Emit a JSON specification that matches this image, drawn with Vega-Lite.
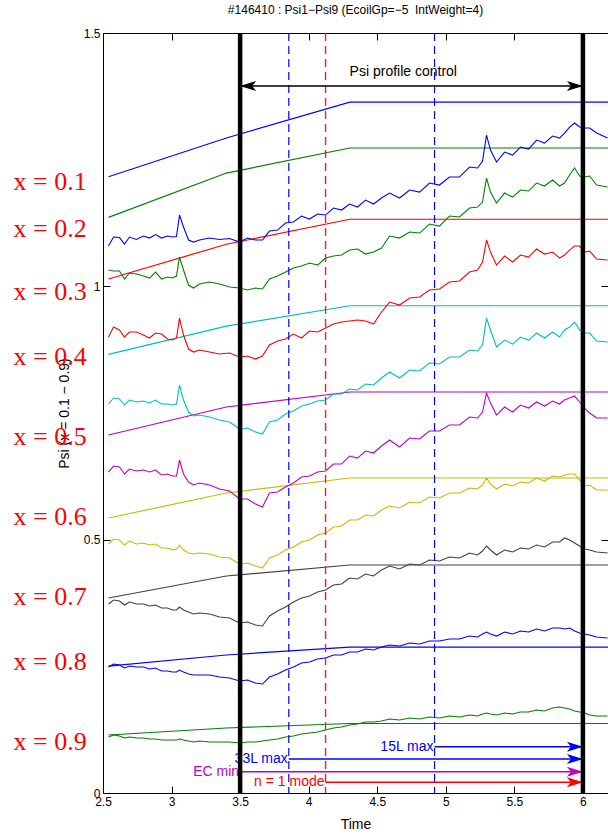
{
  "$schema": "https://vega.github.io/schema/vega-lite/v6.json",
  "width": 505,
  "height": 760,
  "autosize": {"type": "none"},
  "padding": {"left": 103, "top": 33, "right": 0, "bottom": 42},
  "background": "white",
  "title": {
    "text": "#146410 : Psi1−Psi9 (EcoilGp=−5\u00a0 IntWeight=4)",
    "font": "Liberation Sans",
    "fontSize": 12,
    "fontWeight": "normal",
    "color": "black",
    "offset": 10
  },
  "config": {
    "view": {"stroke": null},
    "axis": {
      "labelFont": "Liberation Sans",
      "titleFont": "Liberation Sans",
      "labelColor": "black",
      "titleColor": "black",
      "domainColor": "black",
      "tickColor": "black",
      "grid": false,
      "titleFontWeight": "normal",
      "labelFontSize": 12,
      "titleFontSize": 14,
      "domainWidth": 1,
      "tickWidth": 1,
      "zindex": 1
    }
  },
  "resolve": {"axis": {"x": "independent", "y": "independent"}},
  "datasets": {
    "targets": [
      {"t": 2.54, "p1": 1.2163, "p2": 1.1362, "p3": 1.0144, "p4": 0.8658, "p5": 0.7065, "p6": 0.5427, "p7": 0.3848, "p8": 0.2506, "p9": 0.1145},
      {"t": 3.4, "p1": 1.2927, "p2": 1.2236, "p3": 1.0831, "p4": 0.9213, "p5": 0.7618, "p6": 0.5921, "p7": 0.4283, "p8": 0.2724, "p9": 0.1283},
      {"t": 4.3, "p1": 1.3637, "p2": 1.273, "p3": 1.1324, "p4": 0.9617, "p5": 0.7914, "p6": 0.6217, "p7": 0.45, "p8": 0.2881, "p9": 0.1372},
      {"t": 6.183, "p1": 1.3637, "p2": 1.273, "p3": 1.1324, "p4": 0.9617, "p5": 0.7914, "p6": 0.6217, "p7": 0.45, "p8": 0.2881, "p9": 0.1372}
    ],
    "measured": [
      {"t": 2.540, "p1": 1.0795, "p2": 1.0322, "p3": 0.8999, "p4": 0.7677, "p5": 0.6335, "p6": 0.4914, "p7": 0.3730, "p8": 0.2487, "p9": 0.1105},
      {"t": 2.577, "p1": 1.0973, "p2": 1.0302, "p3": 0.9197, "p4": 0.7796, "p5": 0.6453, "p6": 0.5013, "p7": 0.3809, "p8": 0.2546, "p9": 0.1145},
      {"t": 2.620, "p1": 1.0963, "p2": 1.0302, "p3": 0.9138, "p4": 0.7776, "p5": 0.6434, "p6": 0.4993, "p7": 0.3789, "p8": 0.2526, "p9": 0.1125},
      {"t": 2.657, "p1": 1.0835, "p2": 1.0144, "p3": 0.8999, "p4": 0.7657, "p5": 0.6296, "p6": 0.4894, "p7": 0.3710, "p8": 0.2467, "p9": 0.1085},
      {"t": 2.693, "p1": 1.0973, "p2": 1.0263, "p3": 0.9098, "p4": 0.7756, "p5": 0.6394, "p6": 0.4973, "p7": 0.3770, "p8": 0.2506, "p9": 0.1105},
      {"t": 2.744, "p1": 1.0924, "p2": 1.0243, "p3": 0.9098, "p4": 0.7717, "p5": 0.6355, "p6": 0.4914, "p7": 0.3730, "p8": 0.2487, "p9": 0.1085},
      {"t": 2.795, "p1": 1.0993, "p2": 1.0203, "p3": 0.9039, "p4": 0.7736, "p5": 0.6375, "p6": 0.4934, "p7": 0.3730, "p8": 0.2487, "p9": 0.1085},
      {"t": 2.839, "p1": 1.0953, "p2": 1.0164, "p3": 0.8980, "p4": 0.7697, "p5": 0.6335, "p6": 0.4894, "p7": 0.3691, "p8": 0.2447, "p9": 0.1066},
      {"t": 2.883, "p1": 1.1022, "p2": 1.0282, "p3": 0.9078, "p4": 0.7756, "p5": 0.6375, "p6": 0.4914, "p7": 0.3710, "p8": 0.2467, "p9": 0.1066},
      {"t": 2.927, "p1": 1.0953, "p2": 1.0144, "p3": 0.9059, "p4": 0.7677, "p5": 0.6276, "p6": 0.4835, "p7": 0.3651, "p8": 0.2408, "p9": 0.1046},
      {"t": 2.970, "p1": 1.0993, "p2": 1.0184, "p3": 0.8960, "p4": 0.7677, "p5": 0.6296, "p6": 0.4835, "p7": 0.3651, "p8": 0.2408, "p9": 0.1046},
      {"t": 3.007, "p1": 1.0973, "p2": 1.0164, "p3": 0.8940, "p4": 0.7657, "p5": 0.6256, "p6": 0.4796, "p7": 0.3612, "p8": 0.2388, "p9": 0.1046},
      {"t": 3.036, "p1": 1.0983, "p2": 1.0203, "p3": 0.8980, "p4": 0.7677, "p5": 0.6256, "p6": 0.4815, "p7": 0.3612, "p8": 0.2388, "p9": 0.1046},
      {"t": 3.058, "p1": 1.1407, "p2": 1.0578, "p3": 0.9374, "p4": 0.8052, "p5": 0.6572, "p6": 0.4894, "p7": 0.3671, "p8": 0.2427, "p9": 0.1066},
      {"t": 3.087, "p1": 1.1170, "p2": 1.0322, "p3": 0.9039, "p4": 0.7756, "p5": 0.6296, "p6": 0.4796, "p7": 0.3612, "p8": 0.2388, "p9": 0.1046},
      {"t": 3.124, "p1": 1.0914, "p2": 1.0026, "p3": 0.8763, "p4": 0.7519, "p5": 0.6138, "p6": 0.4737, "p7": 0.3572, "p8": 0.2349, "p9": 0.1026},
      {"t": 3.160, "p1": 1.0874, "p2": 0.9966, "p3": 0.8703, "p4": 0.7440, "p5": 0.6079, "p6": 0.4717, "p7": 0.3533, "p8": 0.2329, "p9": 0.1007},
      {"t": 3.204, "p1": 1.0914, "p2": 1.0045, "p3": 0.8743, "p4": 0.7460, "p5": 0.6118, "p6": 0.4737, "p7": 0.3552, "p8": 0.2329, "p9": 0.1026},
      {"t": 3.277, "p1": 1.0953, "p2": 1.0085, "p3": 0.8703, "p4": 0.7421, "p5": 0.6079, "p6": 0.4717, "p7": 0.3533, "p8": 0.2329, "p9": 0.1007},
      {"t": 3.350, "p1": 1.0924, "p2": 1.0045, "p3": 0.8664, "p4": 0.7361, "p5": 0.6000, "p6": 0.4658, "p7": 0.3473, "p8": 0.2289, "p9": 0.1007},
      {"t": 3.423, "p1": 1.0943, "p2": 0.9986, "p3": 0.8684, "p4": 0.7322, "p5": 0.5960, "p6": 0.4638, "p7": 0.3454, "p8": 0.2270, "p9": 0.1007},
      {"t": 3.496, "p1": 1.0874, "p2": 0.9966, "p3": 0.8605, "p4": 0.7184, "p5": 0.5802, "p6": 0.4520, "p7": 0.3355, "p8": 0.2210, "p9": 0.0987},
      {"t": 3.554, "p1": 1.0953, "p2": 0.9927, "p3": 0.8624, "p4": 0.7204, "p5": 0.5802, "p6": 0.4539, "p7": 0.3375, "p8": 0.2230, "p9": 0.1007},
      {"t": 3.612, "p1": 1.0914, "p2": 0.9966, "p3": 0.8565, "p4": 0.7125, "p5": 0.5704, "p6": 0.4480, "p7": 0.3316, "p8": 0.2171, "p9": 0.1007},
      {"t": 3.663, "p1": 1.0914, "p2": 0.9947, "p3": 0.8624, "p4": 0.7085, "p5": 0.5644, "p6": 0.4440, "p7": 0.3296, "p8": 0.2151, "p9": 0.1026},
      {"t": 3.714, "p1": 1.1091, "p2": 1.0144, "p3": 0.8842, "p4": 0.7322, "p5": 0.5921, "p6": 0.4638, "p7": 0.3493, "p8": 0.2289, "p9": 0.1046},
      {"t": 3.773, "p1": 1.1111, "p2": 1.0203, "p3": 0.8921, "p4": 0.7361, "p5": 0.5940, "p6": 0.4697, "p7": 0.3592, "p8": 0.2349, "p9": 0.1066},
      {"t": 3.831, "p1": 1.1249, "p2": 1.0282, "p3": 0.8960, "p4": 0.7480, "p5": 0.6039, "p6": 0.4796, "p7": 0.3671, "p8": 0.2427, "p9": 0.1105},
      {"t": 3.889, "p1": 1.1269, "p2": 1.0361, "p3": 0.9059, "p4": 0.7539, "p5": 0.6118, "p6": 0.4855, "p7": 0.3770, "p8": 0.2487, "p9": 0.1125},
      {"t": 3.948, "p1": 1.1387, "p2": 1.0401, "p3": 0.8980, "p4": 0.7638, "p5": 0.6236, "p6": 0.4954, "p7": 0.3848, "p8": 0.2566, "p9": 0.1164},
      {"t": 4.006, "p1": 1.1328, "p2": 1.0460, "p3": 0.9118, "p4": 0.7677, "p5": 0.6256, "p6": 0.4993, "p7": 0.3888, "p8": 0.2585, "p9": 0.1184},
      {"t": 4.065, "p1": 1.1427, "p2": 1.0420, "p3": 0.9098, "p4": 0.7736, "p5": 0.6335, "p6": 0.5092, "p7": 0.3967, "p8": 0.2645, "p9": 0.1204},
      {"t": 4.123, "p1": 1.1407, "p2": 1.0558, "p3": 0.9177, "p4": 0.7756, "p5": 0.6355, "p6": 0.5131, "p7": 0.4006, "p8": 0.2664, "p9": 0.1243},
      {"t": 4.181, "p1": 1.1545, "p2": 1.0598, "p3": 0.9256, "p4": 0.7875, "p5": 0.6493, "p6": 0.5250, "p7": 0.4105, "p8": 0.2724, "p9": 0.1283},
      {"t": 4.240, "p1": 1.1506, "p2": 1.0618, "p3": 0.9295, "p4": 0.7875, "p5": 0.6493, "p6": 0.5269, "p7": 0.4125, "p8": 0.2724, "p9": 0.1303},
      {"t": 4.298, "p1": 1.1624, "p2": 1.0716, "p3": 0.9315, "p4": 0.7973, "p5": 0.6651, "p6": 0.5388, "p7": 0.4243, "p8": 0.2783, "p9": 0.1342},
      {"t": 4.356, "p1": 1.1565, "p2": 1.0736, "p3": 0.9335, "p4": 0.7953, "p5": 0.6611, "p6": 0.5388, "p7": 0.4223, "p8": 0.2783, "p9": 0.1362},
      {"t": 4.415, "p1": 1.1703, "p2": 1.0637, "p3": 0.9315, "p4": 0.8072, "p5": 0.6750, "p6": 0.5487, "p7": 0.4322, "p8": 0.2842, "p9": 0.1401},
      {"t": 4.473, "p1": 1.1624, "p2": 1.0677, "p3": 0.9256, "p4": 0.8052, "p5": 0.6710, "p6": 0.5467, "p7": 0.4283, "p8": 0.2822, "p9": 0.1401},
      {"t": 4.531, "p1": 1.1743, "p2": 1.0756, "p3": 0.9493, "p4": 0.8190, "p5": 0.6848, "p6": 0.5585, "p7": 0.4401, "p8": 0.2881, "p9": 0.1421},
      {"t": 4.590, "p1": 1.1841, "p2": 1.0993, "p3": 0.9690, "p4": 0.8309, "p5": 0.6967, "p6": 0.5664, "p7": 0.4480, "p8": 0.2921, "p9": 0.1460},
      {"t": 4.663, "p1": 1.1743, "p2": 1.0953, "p3": 0.9631, "p4": 0.8190, "p5": 0.6829, "p6": 0.5625, "p7": 0.4421, "p8": 0.2901, "p9": 0.1441},
      {"t": 4.736, "p1": 1.1900, "p2": 1.1072, "p3": 0.9769, "p4": 0.8348, "p5": 0.7006, "p6": 0.5743, "p7": 0.4520, "p8": 0.2960, "p9": 0.1480},
      {"t": 4.809, "p1": 1.1861, "p2": 1.1052, "p3": 0.9789, "p4": 0.8328, "p5": 0.6986, "p6": 0.5723, "p7": 0.4500, "p8": 0.2941, "p9": 0.1460},
      {"t": 4.881, "p1": 1.2039, "p2": 1.1230, "p3": 0.9927, "p4": 0.8486, "p5": 0.7144, "p6": 0.5842, "p7": 0.4598, "p8": 0.3000, "p9": 0.1500},
      {"t": 4.954, "p1": 1.1999, "p2": 1.1190, "p3": 0.9947, "p4": 0.8467, "p5": 0.7144, "p6": 0.5822, "p7": 0.4579, "p8": 0.3000, "p9": 0.1480},
      {"t": 5.027, "p1": 1.2157, "p2": 1.1387, "p3": 1.0085, "p4": 0.8605, "p5": 0.7263, "p6": 0.5921, "p7": 0.4658, "p8": 0.3039, "p9": 0.1520},
      {"t": 5.100, "p1": 1.2157, "p2": 1.1368, "p3": 1.0105, "p4": 0.8605, "p5": 0.7263, "p6": 0.5921, "p7": 0.4638, "p8": 0.3039, "p9": 0.1500},
      {"t": 5.173, "p1": 1.2354, "p2": 1.1545, "p3": 1.0282, "p4": 0.8743, "p5": 0.7421, "p6": 0.6019, "p7": 0.4737, "p8": 0.3098, "p9": 0.1539},
      {"t": 5.232, "p1": 1.2335, "p2": 1.1565, "p3": 1.0322, "p4": 0.8723, "p5": 0.7401, "p6": 0.6000, "p7": 0.4697, "p8": 0.3079, "p9": 0.1520},
      {"t": 5.268, "p1": 1.2473, "p2": 1.1664, "p3": 1.0480, "p4": 0.8842, "p5": 0.7519, "p6": 0.6079, "p7": 0.4776, "p8": 0.3138, "p9": 0.1559},
      {"t": 5.297, "p1": 1.2986, "p2": 1.2137, "p3": 1.0914, "p4": 0.9374, "p5": 0.7894, "p6": 0.6217, "p7": 0.4875, "p8": 0.3177, "p9": 0.1579},
      {"t": 5.326, "p1": 1.2690, "p2": 1.1861, "p3": 1.0677, "p4": 0.9138, "p5": 0.7697, "p6": 0.6098, "p7": 0.4796, "p8": 0.3138, "p9": 0.1559},
      {"t": 5.370, "p1": 1.2453, "p2": 1.1644, "p3": 1.0420, "p4": 0.8802, "p5": 0.7460, "p6": 0.6000, "p7": 0.4697, "p8": 0.3098, "p9": 0.1539},
      {"t": 5.429, "p1": 1.2650, "p2": 1.1841, "p3": 1.0598, "p4": 0.8940, "p5": 0.7618, "p6": 0.6098, "p7": 0.4796, "p8": 0.3177, "p9": 0.1579},
      {"t": 5.487, "p1": 1.2591, "p2": 1.1762, "p3": 1.0480, "p4": 0.8861, "p5": 0.7519, "p6": 0.6059, "p7": 0.4756, "p8": 0.3138, "p9": 0.1559},
      {"t": 5.545, "p1": 1.2749, "p2": 1.1900, "p3": 1.0618, "p4": 0.8999, "p5": 0.7657, "p6": 0.6138, "p7": 0.4835, "p8": 0.3197, "p9": 0.1599},
      {"t": 5.604, "p1": 1.2710, "p2": 1.1881, "p3": 1.0578, "p4": 0.8940, "p5": 0.7598, "p6": 0.6118, "p7": 0.4815, "p8": 0.3177, "p9": 0.1599},
      {"t": 5.662, "p1": 1.2887, "p2": 1.2039, "p3": 1.0736, "p4": 0.9078, "p5": 0.7717, "p6": 0.6217, "p7": 0.4894, "p8": 0.3237, "p9": 0.1638},
      {"t": 5.720, "p1": 1.2828, "p2": 1.1980, "p3": 1.0637, "p4": 0.8980, "p5": 0.7638, "p6": 0.6157, "p7": 0.4855, "p8": 0.3197, "p9": 0.1618},
      {"t": 5.779, "p1": 1.2966, "p2": 1.2098, "p3": 1.0677, "p4": 0.9098, "p5": 0.7736, "p6": 0.6256, "p7": 0.4954, "p8": 0.3256, "p9": 0.1678},
      {"t": 5.830, "p1": 1.2927, "p2": 1.1980, "p3": 1.0558, "p4": 0.8999, "p5": 0.7677, "p6": 0.6236, "p7": 0.4954, "p8": 0.3256, "p9": 0.1697},
      {"t": 5.866, "p1": 1.3025, "p2": 1.2039, "p3": 1.0618, "p4": 0.9138, "p5": 0.7756, "p6": 0.6276, "p7": 0.5033, "p8": 0.3237, "p9": 0.1678},
      {"t": 5.903, "p1": 1.3144, "p2": 1.2197, "p3": 1.0716, "p4": 0.9197, "p5": 0.7796, "p6": 0.6296, "p7": 0.4993, "p8": 0.3256, "p9": 0.1658},
      {"t": 5.939, "p1": 1.3223, "p2": 1.2335, "p3": 1.0795, "p4": 0.9295, "p5": 0.7835, "p6": 0.6296, "p7": 0.4934, "p8": 0.3197, "p9": 0.1618},
      {"t": 5.976, "p1": 1.3144, "p2": 1.2177, "p3": 1.0795, "p4": 0.9138, "p5": 0.7717, "p6": 0.6177, "p7": 0.4875, "p8": 0.3158, "p9": 0.1599},
      {"t": 6.012, "p1": 1.3124, "p2": 1.2157, "p3": 1.0677, "p4": 0.9078, "p5": 0.7598, "p6": 0.6059, "p7": 0.4815, "p8": 0.3138, "p9": 0.1579},
      {"t": 6.049, "p1": 1.3124, "p2": 1.2177, "p3": 1.0697, "p4": 0.9078, "p5": 0.7499, "p6": 0.6079, "p7": 0.4796, "p8": 0.3118, "p9": 0.1539},
      {"t": 6.100, "p1": 1.3025, "p2": 1.1999, "p3": 1.0539, "p4": 0.8921, "p5": 0.7401, "p6": 0.5980, "p7": 0.4756, "p8": 0.3079, "p9": 0.1520},
      {"t": 6.180, "p1": 1.2927, "p2": 1.1960, "p3": 1.0519, "p4": 0.8901, "p5": 0.7401, "p6": 0.5980, "p7": 0.4737, "p8": 0.3059, "p9": 0.1520}
    ],
    "arrows": [
      {"key": "15L max", "t0": 4.918, "t1": 6, "v": 0.0914},
      {"key": "33L max", "t0": 3.855, "t1": 6, "v": 0.0671},
      {"key": "EC min", "t0": 3.5, "t1": 6, "v": 0.042},
      {"key": "n = 1 mode", "t0": 4.123, "t1": 6, "v": 0.0211},
      {"key": "Psi profile control", "t0": 3.5, "t1": 6, "v": 1.3953}
    ],
    "heads": [
      {"key": "15L max", "t": 6, "v": 0.0914, "dir": "right"},
      {"key": "33L max", "t": 6, "v": 0.0671, "dir": "right"},
      {"key": "EC min", "t": 6, "v": 0.042, "dir": "right"},
      {"key": "n = 1 mode", "t": 6, "v": 0.0211, "dir": "right"},
      {"key": "Psi profile control", "t": 6, "v": 1.3953, "dir": "right"},
      {"key": "Psi profile control", "t": 3.5, "v": 1.3953, "dir": "left"}
    ],
    "radii": [
      {"lab": "x = 0.1", "t": 1.847, "v": 1.206},
      {"lab": "x = 0.2", "t": 1.847, "v": 1.113},
      {"lab": "x = 0.3", "t": 1.847, "v": 0.989},
      {"lab": "x = 0.4", "t": 1.847, "v": 0.86},
      {"lab": "x = 0.5", "t": 1.847, "v": 0.703},
      {"lab": "x = 0.6", "t": 1.847, "v": 0.545},
      {"lab": "x = 0.7", "t": 1.847, "v": 0.387},
      {"lab": "x = 0.8", "t": 1.847, "v": 0.259},
      {"lab": "x = 0.9", "t": 1.847, "v": 0.101}
    ]
  },
  "layer": [
    {
      "data": {"name": "targets"},
      "transform": [{"fold": ["p1", "p2", "p3", "p4", "p5", "p6", "p7", "p8", "p9"], "as": ["key", "v"]}],
      "mark": {"type": "line", "strokeWidth": 1.2},
      "encoding": {
        "x": {
          "field": "t", "type": "quantitative",
          "scale": {"domain": [2.5, 6.183], "nice": false, "zero": false},
          "axis": {
            "orient": "bottom", "values": [2.5, 3, 3.5, 4, 4.5, 5, 5.5, 6],
            "labelExpr": "datum.value", "tickSize": -7, "labelPadding": 10,
            "labelFlush": false, "labelOverlap": false,
            "title": "Time", "titlePadding": 10
          }
        },
        "y": {
          "field": "v", "type": "quantitative",
          "scale": {"domain": [0, 1.5], "nice": false, "zero": false},
          "axis": {
            "orient": "left", "values": [0, 0.5, 1, 1.5],
            "labelExpr": "datum.value", "tickSize": -7, "labelPadding": 10,
            "labelFlush": false, "labelOverlap": false,
            "title": "Psi (x = 0.1 − 0.9)", "titlePadding": 12
          }
        },
        "color": {
          "field": "key", "type": "nominal", "legend": null,
          "scale": {
            "domain": ["p1", "p2", "p3", "p4", "p5", "p6", "p7", "p8", "p9", "15L max", "33L max", "EC min", "n = 1 mode", "Psi profile control"],
            "range": ["#0000ff", "#008000", "#ff0000", "#00bfbf", "#bf00bf", "#bfbf00", "#404040", "#0000ff", "#008000", "#0000ff", "#0000ff", "#bf00bf", "#ff0000", "#000000"]
          }
        },
        "detail": {"field": "key"}
      }
    },
    {
      "data": {"name": "measured"},
      "transform": [{"fold": ["p1", "p2", "p3", "p4", "p5", "p6", "p7", "p8", "p9"], "as": ["key", "v"]}],
      "mark": {"type": "line", "strokeWidth": 1.1},
      "encoding": {
        "x": {"field": "t", "type": "quantitative", "axis": null},
        "y": {"field": "v", "type": "quantitative", "axis": null},
        "color": {"field": "key", "type": "nominal", "legend": null},
        "detail": {"field": "key"}
      }
    },
    {
      "data": {"values": [{"t": 3.855}, {"t": 4.918}]},
      "mark": {"type": "rule", "color": "#0000ff", "strokeWidth": 1.2, "strokeDash": [8, 5]},
      "encoding": {"x": {"field": "t", "type": "quantitative", "axis": null}}
    },
    {
      "data": {"values": [{"t": 4.123}]},
      "mark": {"type": "rule", "color": "#ff1a1a", "strokeWidth": 1.4, "strokeDash": [8, 5]},
      "encoding": {"x": {"field": "t", "type": "quantitative", "axis": null}}
    },
    {
      "data": {"name": "arrows"},
      "mark": {"type": "rule", "strokeWidth": 1.5},
      "encoding": {
        "x": {"field": "t0", "type": "quantitative", "axis": null},
        "x2": {"field": "t1"},
        "y": {"field": "v", "type": "quantitative", "axis": null},
        "color": {"field": "key", "type": "nominal", "legend": null}
      }
    },
    {
      "data": {"name": "heads"},
      "mark": {"type": "point", "filled": true, "opacity": 1, "size": 256, "strokeWidth": 0},
      "encoding": {
        "x": {"field": "t", "type": "quantitative", "axis": null},
        "y": {"field": "v", "type": "quantitative", "axis": null},
        "color": {"field": "key", "type": "nominal", "legend": null},
        "shape": {
          "field": "dir", "type": "nominal", "legend": null,
          "scale": {"domain": ["right", "left"], "range": ["M0,0L-2,-0.62L-1.5,0L-2,0.62Z", "M0,0L2,-0.62L1.5,0L2,0.62Z"]}
        }
      }
    },
    {
      "data": {"name": "arrows"},
      "transform": [{"filter": "datum.key !== 'Psi profile control'"}],
      "mark": {"type": "text", "align": "right", "baseline": "middle", "font": "Liberation Sans", "fontSize": 14, "dx": -1},
      "encoding": {
        "x": {"field": "t0", "type": "quantitative", "axis": null},
        "y": {"field": "v", "type": "quantitative", "axis": null},
        "text": {"field": "key"},
        "color": {"field": "key", "type": "nominal", "legend": null}
      }
    },
    {
      "data": {"values": [{"lab": "Psi profile control", "t": 4.69, "v": 1.4229}]},
      "mark": {"type": "text", "align": "center", "baseline": "middle", "font": "Liberation Sans", "fontSize": 14, "color": "black"},
      "encoding": {
        "x": {"field": "t", "type": "quantitative", "axis": null},
        "y": {"field": "v", "type": "quantitative", "axis": null},
        "text": {"field": "lab"}
      }
    },
    {
      "data": {"values": [{"t": 3.5}, {"t": 6}]},
      "mark": {"type": "rule", "color": "black", "strokeWidth": 4.5},
      "encoding": {"x": {"field": "t", "type": "quantitative", "axis": null}}
    },
    {
      "data": {"name": "radii"},
      "mark": {"type": "text", "align": "left", "baseline": "middle", "font": "Liberation Serif", "fontSize": 26, "color": "#ff0000"},
      "encoding": {
        "x": {"field": "t", "type": "quantitative", "axis": null},
        "y": {"field": "v", "type": "quantitative", "axis": null},
        "text": {"field": "lab"}
      }
    },
    {
      "data": {"values": [{"t": 2.5, "v": 0}]},
      "mark": {"type": "point", "opacity": 0},
      "encoding": {
        "x": {
          "field": "t", "type": "quantitative",
          "axis": {"orient": "top", "values": [2.5, 3, 3.5, 4, 4.5, 5, 5.5, 6], "labels": false, "tickSize": -7, "title": null}
        },
        "y": {
          "field": "v", "type": "quantitative",
          "axis": {"orient": "right", "values": [0, 0.5, 1, 1.5], "labels": false, "tickSize": -7, "title": null}
        }
      }
    }
  ]
}
